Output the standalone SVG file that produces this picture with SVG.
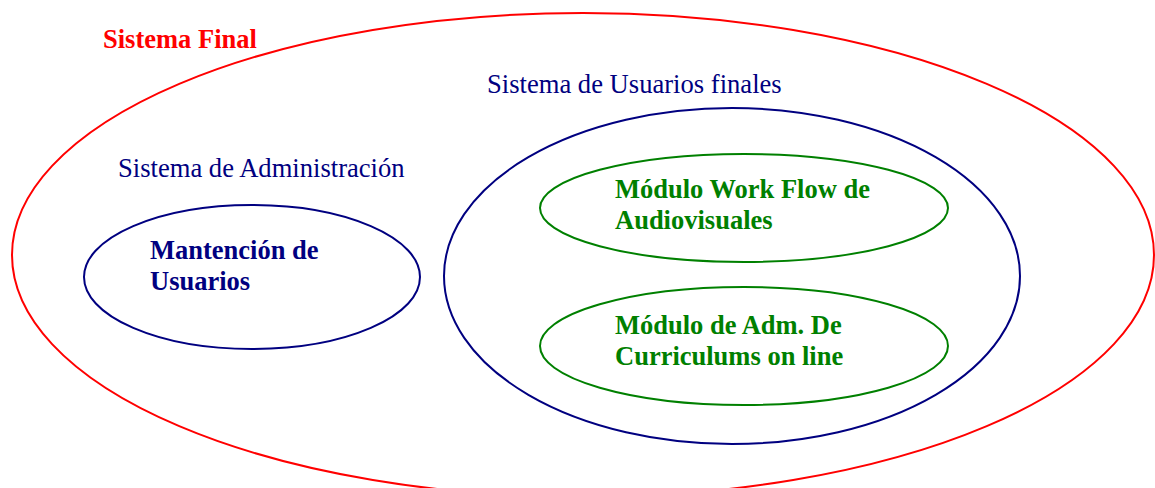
<svg xmlns="http://www.w3.org/2000/svg" width="1155" height="488" viewBox="0 0 1155 488">
<style>
.red{fill:none;stroke:#ff0000;stroke-width:2}
.navy{fill:none;stroke:#000080;stroke-width:2}
.green{fill:none;stroke:#008000;stroke-width:2}
text{font-family:"Liberation Serif","Times New Roman",serif}
.b{font-weight:bold;font-size:26.5px}
.n{font-size:26.6px;fill:#000080}
</style>
<rect width="1155" height="488" fill="#fff"/>
<g id="sistema-final">
<ellipse class="red" cx="583" cy="255" rx="571" ry="242"/>
<text class="b" x="103" y="48" fill="#ff0000">Sistema Final</text>
</g>
<g id="sistema-admin">
<text class="n" x="118" y="177">Sistema de Administración</text>
</g>
<g id="mantencion">
<ellipse class="navy" cx="252" cy="277" rx="168" ry="72"/>
<text class="b" x="150" y="259" fill="#000080">Mantención de</text>
<text class="b" x="150" y="290" fill="#000080">Usuarios</text>
</g>
<g id="sistema-usuarios">
<ellipse class="navy" cx="732" cy="276" rx="288" ry="168"/>
<text class="n" x="487" y="93">Sistema de Usuarios finales</text>
</g>
<g id="workflow">
<ellipse class="green" cx="744" cy="208" rx="204" ry="54"/>
<text class="b" x="615" y="198" fill="#008000">Módulo Work Flow de</text>
<text class="b" x="615" y="229" fill="#008000">Audiovisuales</text>
</g>
<g id="curriculums">
<ellipse class="green" cx="744" cy="346" rx="204" ry="59"/>
<text class="b" x="615" y="334" fill="#008000">Módulo de Adm. De</text>
<text class="b" x="615" y="365" fill="#008000">Curriculums on line</text>
</g>
<g id="connectors"/>
</svg>
